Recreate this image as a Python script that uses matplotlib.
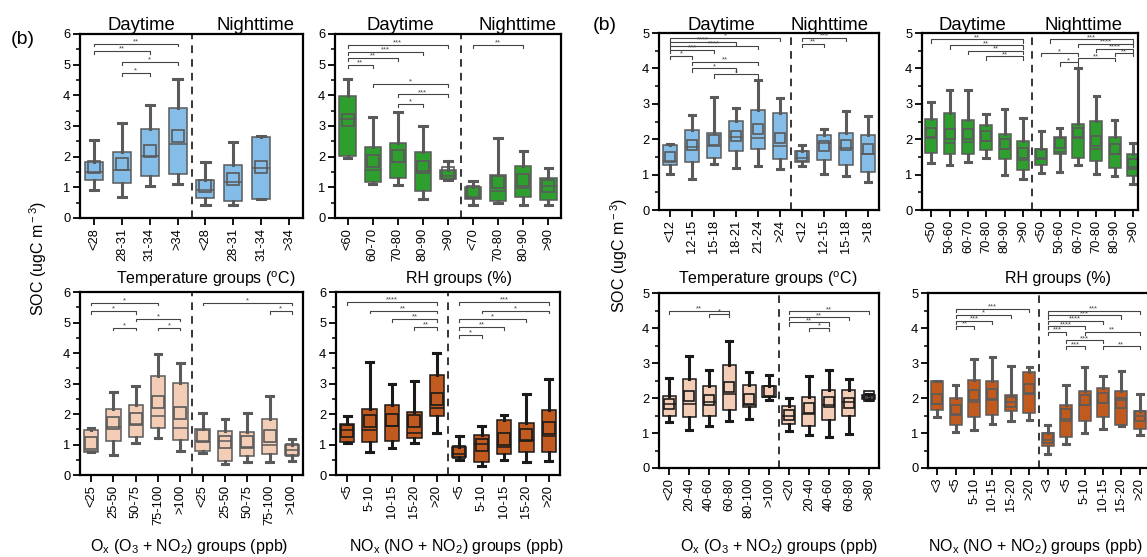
import matplotlib.pyplot as plt
from matplotlib.ticker import MultipleLocator

plt.rcParams['font.family'] = ['Liberation Sans', 'DejaVu Sans']
plt.rcParams['mathtext.fontset'] = 'custom'
plt.rcParams['mathtext.rm'] = 'Liberation Sans'
plt.rcParams['mathtext.it'] = 'Liberation Sans:italic'

W, H = 1147, 557

# ---- data: (whislo, q1, median, q3, whishi, mean) per group, day then night ----
# left figure
TEMP_A_LABELS = ['<28', '28-31', '31-34', '>34', '<28', '28-31', '31-34', '>34']
TEMP_A_STATS = [
    (0.92, 1.25, 1.49, 1.84, 2.53, 1.65),
    (0.70, 1.14, 1.55, 2.14, 3.11, 1.76),
    (1.03, 1.36, 2.03, 2.90, 3.69, 2.20),
    (1.11, 1.44, 2.42, 3.58, 4.52, 2.66),
    (0.43, 0.65, 0.90, 1.25, 1.84, 1.03),
    (0.43, 0.54, 1.16, 1.74, 2.49, 1.28),
    (0.63, 0.63, 1.63, 2.64, 2.66, 1.65),
    None,
]
TEMP_A_SIG = [(1, 4, 5.69, '**'), (1, 3, 5.44, '**'), (2, 4, 5.08, '*'), (2, 3, 4.72, '*')]

RH_A_LABELS = ['<60', '60-70', '70-80', '80-90', '>90', '<70', '70-80', '80-90', '>90']
RH_A_STATS = [
    (1.97, 2.03, 3.22, 3.98, 4.52, 3.20),
    (1.11, 1.16, 1.57, 2.31, 3.29, 1.87),
    (1.08, 1.32, 1.84, 2.44, 3.47, 2.03),
    (0.63, 0.87, 1.52, 2.14, 3.00, 1.65),
    (1.25, 1.27, 1.36, 1.57, 1.87, 1.46),
    (0.43, 0.63, 0.70, 1.01, 1.21, 0.84),
    (0.49, 0.54, 0.89, 1.41, 2.60, 1.16),
    (0.43, 0.68, 0.98, 1.70, 2.17, 1.23),
    (0.43, 0.60, 1.03, 1.32, 1.63, 1.03),
]
RH_A_SIG = [(1, 5, 5.64, '***'), (1, 4, 5.42, '***'), (1, 3, 5.21, '**'), (1, 2, 4.99, '**'),
            (2, 5, 4.36, '*'), (3, 5, 4.03, '***'), (3, 4, 3.72, '*'), (6, 8, 5.64, '**')]

OX_A_LABELS = ['<25', '25-50', '50-75', '75-100', '>100'] * 2
OX_A_STATS = [
    (0.74, 0.74, 0.80, 1.49, 1.53, 1.04),
    (0.65, 1.12, 1.56, 2.16, 2.71, 1.71),
    (1.06, 1.23, 1.67, 2.29, 2.91, 1.85),
    (1.20, 1.53, 1.94, 3.25, 3.98, 2.40),
    (0.80, 1.15, 1.55, 3.02, 3.68, 2.04),
    (0.71, 0.80, 1.13, 1.51, 2.04, 1.28),
    (0.35, 0.47, 1.10, 1.45, 1.82, 1.07),
    (0.44, 0.62, 0.91, 1.42, 2.04, 1.09),
    (0.41, 0.68, 0.98, 1.82, 2.60, 1.29),
    (0.46, 0.65, 0.82, 0.98, 1.18, 0.82),
]
OX_A_SIG = [(1, 4, 5.65, '*'), (1, 3, 5.38, '*'), (3, 5, 5.13, '*'), (2, 3, 4.83, '*'),
            (4, 5, 4.83, '*'), (6, 10, 5.65, '*'), (9, 10, 5.38, '*')]

NOX_A_LABELS = ['<5', '5-10', '10-15', '15-20', '>20'] * 2
NOX_A_STATS = [
    (1.06, 1.09, 1.46, 1.66, 1.92, 1.45),
    (0.74, 1.09, 1.46, 2.16, 3.69, 1.77),
    (0.88, 1.12, 1.61, 2.28, 2.99, 1.81),
    (1.06, 1.20, 1.37, 2.05, 3.07, 1.77),
    (1.37, 1.95, 2.21, 3.28, 4.00, 2.50),
    (0.49, 0.60, 0.69, 0.91, 1.29, 0.77),
    (0.31, 0.44, 1.01, 1.31, 1.62, 0.99),
    (0.49, 0.68, 0.93, 1.81, 1.97, 1.17),
    (0.44, 0.77, 1.15, 1.69, 2.65, 1.31),
    (0.46, 0.77, 1.29, 2.14, 3.14, 1.53),
]
NOX_A_SIG = [(1, 5, 5.67, '****'), (2, 5, 5.39, '**'), (3, 5, 5.12, '**'), (4, 5, 4.85, '**'),
             (6, 10, 5.67, '***'), (7, 10, 5.39, '*'), (6, 9, 5.12, '*'), (6, 8, 4.85, '**'),
             (6, 7, 4.58, '*')]

# right figure
TEMP_B_LABELS = ['<12', '12-15', '15-18', '18-21', '21-24', '>24', '<12', '12-15', '15-18', '>18']
TEMP_B_STATS = [
    (1.02, 1.28, 1.39, 1.83, 1.87, 1.50),
    (0.88, 1.36, 1.77, 2.26, 2.68, 1.85),
    (1.30, 1.47, 1.82, 2.18, 3.18, 1.99),
    (1.19, 1.66, 2.07, 2.51, 2.89, 2.09),
    (1.25, 1.73, 2.04, 2.83, 3.67, 2.30),
    (1.17, 1.44, 1.82, 2.73, 3.16, 2.04),
    (1.25, 1.35, 1.47, 1.66, 1.85, 1.52),
    (1.02, 1.40, 1.90, 2.12, 2.28, 1.82),
    (0.95, 1.28, 1.76, 2.18, 2.80, 1.85),
    (0.78, 1.06, 1.58, 2.12, 2.66, 1.71),
]
TEMP_B_SIG = [(1, 6, 4.86, '*'), (1, 4, 4.75, '****'), (1, 5, 4.64, '****'), (1, 3, 4.52, '***'),
              (1, 2, 4.36, '*'), (2, 5, 4.19, '**'), (2, 4, 4.00, '*'), (3, 5, 3.83, '*'),
              (7, 9, 4.86, '***'), (7, 8, 4.70, '**')]

RH_B_LABELS = ['<50', '50-60', '60-70', '70-80', '80-90', '>90'] * 2
RH_B_STATS = [
    (1.33, 1.61, 2.06, 2.58, 3.06, 2.18),
    (1.26, 1.57, 1.90, 2.73, 3.39, 2.15),
    (1.35, 1.57, 1.92, 2.54, 3.39, 2.15),
    (1.47, 1.69, 1.96, 2.39, 2.70, 2.09),
    (1.00, 1.44, 1.73, 2.16, 2.85, 1.87),
    (0.87, 1.14, 1.42, 1.94, 2.61, 1.61),
    (1.04, 1.28, 1.47, 1.73, 2.23, 1.57),
    (1.07, 1.57, 1.63, 2.07, 2.32, 1.90),
    (1.26, 1.47, 2.05, 2.42, 4.01, 2.18),
    (1.02, 1.38, 1.71, 2.51, 3.21, 1.94),
    (0.95, 1.20, 1.59, 2.07, 2.54, 1.73),
    (0.74, 0.95, 1.22, 1.59, 1.90, 1.30),
]
RH_B_SIG = [(1, 6, 4.82, '**'), (2, 6, 4.65, '**'), (3, 6, 4.49, '**'), (4, 6, 4.34, '**'),
            (7.5, 12, 4.82, '***'), (9, 12, 4.70, '****'), (10, 12, 4.55, '****'),
            (11, 12, 4.43, '**'), (7, 9, 4.43, '*'), (8, 9, 4.17, '*'), (9, 11, 4.29, '**')]

OX_B_LABELS = ['<20', '20-40', '40-60', '60-80', '80-100', '>100', '<20', '20-40', '40-60', '60-80', '>80']
OX_B_STATS = [
    (1.31, 1.50, 1.84, 2.05, 2.57, 1.84),
    (1.10, 1.46, 1.83, 2.54, 3.21, 2.05),
    (1.19, 1.48, 1.90, 2.33, 2.79, 1.95),
    (1.35, 1.65, 2.11, 2.95, 3.62, 2.31),
    (1.41, 1.73, 1.81, 2.36, 2.73, 1.98),
    (1.95, 2.02, 2.03, 2.35, 2.67, 2.19),
    (1.05, 1.27, 1.48, 1.76, 2.00, 1.52),
    (0.93, 1.19, 1.54, 2.03, 2.62, 1.71),
    (0.89, 1.36, 1.81, 2.24, 2.81, 1.90),
    (0.98, 1.50, 1.90, 2.24, 2.54, 1.86),
    (1.94, 1.96, 2.03, 2.10, 2.12, 2.05),
]
OX_B_SIG = [(1, 4, 4.50, '**'), (3, 4, 4.40, '*'), (7, 11, 4.48, '**'), (7, 10, 4.31, '**'),
            (7, 9, 4.16, '**'), (8, 9, 4.00, '*')]

NOX_B_LABELS = ['<3', '<5', '5-10', '10-15', '15-20', '>20'] * 2
NOX_B_STATS = [
    (1.45, 1.67, 1.83, 2.48, 2.50, 1.98),
    (1.03, 1.24, 1.54, 2.00, 2.38, 1.67),
    (1.10, 1.46, 1.89, 2.52, 3.11, 2.08),
    (1.27, 1.52, 1.95, 2.48, 3.16, 2.11),
    (1.33, 1.64, 1.88, 2.10, 2.92, 1.90),
    (1.38, 1.57, 2.14, 2.74, 2.90, 2.27),
    (0.41, 0.62, 0.81, 1.00, 1.24, 0.86),
    (0.70, 0.90, 1.33, 1.79, 2.38, 1.54),
    (1.00, 1.35, 1.79, 2.19, 2.90, 1.95),
    (1.11, 1.45, 1.86, 2.29, 2.64, 2.00),
    (1.19, 1.22, 1.93, 2.21, 2.76, 1.85),
    (0.93, 1.12, 1.48, 1.62, 2.11, 1.48),
]
NOX_B_SIG = [(2, 6, 4.55, '***'), (2, 5, 4.38, '*'), (2, 4, 4.21, '***'), (2, 3, 4.07, '**'),
             (7, 12, 4.50, '***'), (7, 11, 4.36, '***'), (7, 10, 4.21, '****'), (7, 9, 4.05, '****'),
             (7, 8, 3.89, '***'), (9, 12, 3.89, '**'), (8, 10, 3.65, '***'), (8, 9, 3.48, '***'),
             (10, 12, 3.48, '**')]

BLUE = '#84BEE8'
GREEN = '#2E9F2E'
PEACH = '#F3CDB5'
BROWN = '#C15A1F'
GRAY = '#5a5a5a'
DARK = '#1a1a1a'


def px_axes(fig, x0, y0, x1, y1):
    # pixel box (top-left origin) -> figure axes
    return fig.add_axes([x0 / W, 1 - y1 / H, (x1 - x0) / W, (y1 - y0) / H])


def draw(ax, labels, stats, sigs, n_day, ymax, fill, wcol, ecol, xmax=None, ms=8):
    bstats, pos = [], []
    for i, (lab, s) in enumerate(zip(labels, stats), start=1):
        if s is None:
            continue
        lo, q1, med, q3, hi, mean = s
        bstats.append(dict(whislo=lo, q1=q1, med=med, q3=q3, whishi=hi,
                           mean=mean, fliers=[], label=lab))
        pos.append(i)
    ax.bxp(bstats, positions=pos, widths=0.65, capwidths=0.3, patch_artist=True,
           showmeans=True, showfliers=False,
           boxprops=dict(facecolor=fill, edgecolor=ecol, linewidth=1.1),
           medianprops=dict(color=ecol, linewidth=1.1),
           whiskerprops=dict(color=wcol, linewidth=2.2),
           capprops=dict(color=wcol, linewidth=2.2),
           meanprops=dict(marker='s', markerfacecolor='none', markeredgecolor=ecol,
                          markersize=ms, markeredgewidth=1.2))
    n = len(labels)
    ax.set_xticks(range(1, n + 1))
    ax.set_xticklabels(labels, rotation=90, fontsize=9.3)
    ax.set_xlim(0.5, xmax if xmax else n + 0.5)
    ax.set_ylim(0, ymax)
    ax.yaxis.set_major_locator(MultipleLocator(1))
    ax.yaxis.set_minor_locator(MultipleLocator(0.5))
    ax.tick_params(axis='both', which='major', direction='out', length=5, width=1.3,
                   labelsize=9.3, pad=2)
    ax.tick_params(axis='y', which='minor', direction='out', length=3, width=1.1)
    for sp in ax.spines.values():
        sp.set_linewidth(1.6)
    ax.axvline(n_day + 0.5, color='black', linestyle=(0, (5, 4)), linewidth=1.1)
    leg = 0.09
    for a, b, y, txt in sigs:
        ax.plot([a, a, b, b], [y - leg, y, y, y - leg], color='#444444', linewidth=0.8)
        ax.text((a + b) / 2, y - 0.05, txt, ha='center', va='bottom', fontsize=5.5,
                color='#444444')


fig = plt.figure(figsize=(W / 100, H / 100), dpi=100)

# left figure
a1 = px_axes(fig, 80, 34, 303, 218)
draw(a1, TEMP_A_LABELS, TEMP_A_STATS, TEMP_A_SIG, 4, 6, BLUE, GRAY, GRAY)
a2 = px_axes(fig, 335, 34, 561, 218)
draw(a2, RH_A_LABELS, RH_A_STATS, RH_A_SIG, 5, 6, GREEN, GRAY, GRAY)
a3 = px_axes(fig, 80, 292, 303, 475)
draw(a3, OX_A_LABELS, OX_A_STATS, OX_A_SIG, 5, 6, PEACH, GRAY, GRAY)
a4 = px_axes(fig, 336, 292, 560, 475)
draw(a4, NOX_A_LABELS, NOX_A_STATS, NOX_A_SIG, 5, 6, BROWN, DARK, DARK)

# right figure
b1 = px_axes(fig, 659, 33, 879, 210)
draw(b1, TEMP_B_LABELS, TEMP_B_STATS, TEMP_B_SIG, 6, 5, BLUE, GRAY, GRAY, ms=7)
b2 = px_axes(fig, 922, 33, 1138, 210)
draw(b2, RH_B_LABELS, RH_B_STATS, RH_B_SIG, 6, 5, GREEN, GRAY, GRAY, xmax=12.27, ms=7)
b3 = px_axes(fig, 659, 293, 879, 468)
draw(b3, OX_B_LABELS, OX_B_STATS, OX_B_SIG, 6, 5, PEACH, DARK, DARK, ms=7)
b4 = px_axes(fig, 928, 293, 1149, 468)
draw(b4, NOX_B_LABELS, NOX_B_STATS, NOX_B_SIG, 6, 5, BROWN, GRAY, GRAY, ms=7)


def ftext(x, y, s, **kw):
    fig.text(x / W, 1 - y / H, s, **kw)


# panel tags and day/night headers
ftext(23, 39, '(b)', fontsize=14, ha='center', va='center')
ftext(605, 25, '(b)', fontsize=14, ha='center', va='center')
for x, s in [(141, 'Daytime'), (256, 'Nighttime'), (400, 'Daytime'), (517, 'Nighttime'),
             (721, 'Daytime'), (830, 'Nighttime'), (972, 'Daytime'), (1084, 'Nighttime')]:
    ftext(x, 25, s, fontsize=13.3, ha='center', va='center')

# group labels
LAB = 11.5
ftext(206, 279, r'Temperature groups ($^{\rm o}$C)', fontsize=LAB, ha='center', va='center')
ftext(459, 279, 'RH groups (%)', fontsize=LAB, ha='center', va='center')
ftext(189, 547, r'O$_{\rm x}$ (O$_{\rm 3}$ + NO$_{\rm 2}$) groups (ppb)', fontsize=LAB,
      ha='center', va='center')
ftext(456, 547, r'NO$_{\rm x}$ (NO + NO$_{\rm 2}$) groups (ppb)', fontsize=LAB,
      ha='center', va='center')
ftext(768, 279, r'Temperature groups ($^{\rm o}$C)', fontsize=LAB, ha='center', va='center')
ftext(1058, 279, 'RH groups (%)', fontsize=LAB, ha='center', va='center')
ftext(779, 547, r'O$_{\rm x}$ (O$_{\rm 3}$ + NO$_{\rm 2}$) groups (ppb)', fontsize=LAB,
      ha='center', va='center')
ftext(1035, 547, r'NO$_{\rm x}$ (NO + NO$_{\rm 2}$) groups (ppb)', fontsize=LAB,
      ha='center', va='center')

ylab = r'SOC (ugC m$^{\rm -3}$)'
ftext(38, 258, ylab, fontsize=11.5, rotation=90, ha='center', va='center')
ftext(619, 255, ylab, fontsize=11.5, rotation=90, ha='center', va='center')

fig.savefig('out.png', dpi=100)
